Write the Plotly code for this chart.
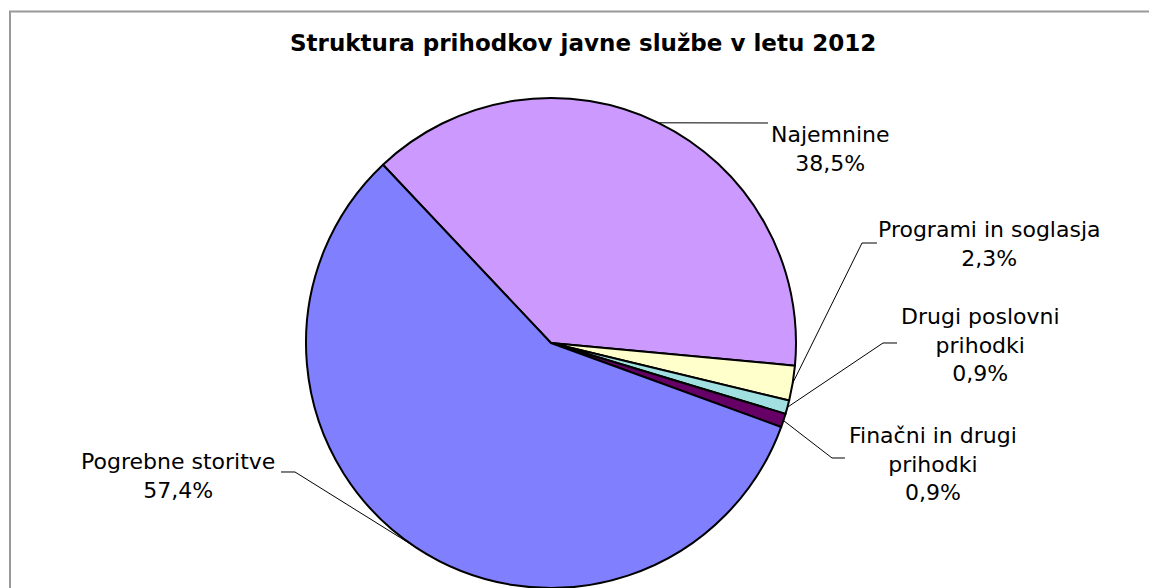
import math
import plotly.graph_objects as go

# ---- data ----
labels = ["Najemnine", "Programi in soglasja", "Drugi poslovni prihodki",
          "Finačni in drugi prihodki", "Pogrebne storitve"]
label_text = ["Najemnine<br>38,5%", "Programi in soglasja<br>2,3%",
              "Drugi poslovni<br>prihodki<br>0,9%", "Finačni in drugi<br>prihodki<br>0,9%",
              "Pogrebne storitve<br>57,4%"]
values = [38.5, 2.3, 0.9, 0.9, 57.4]
colors = ["#CC99FF", "#FFFFCC", "#A0E0E0", "#660066", "#8080FF"]
title = "Struktura prihodkov javne službe v letu 2012"

# ---- layout constants (pixels) ----
W, H = 1149, 588
CX, CY, R = 551, 343, 245
ROT = -43.3
# label text centres and leader elbow points (layout positions)
text_pos = [(830, 149), (989, 244), (980, 345), (933, 464), (178, 476)]
elbows = [[(768, 123)],
          [(862, 243), (877, 243)],
          [(883, 343), (897, 343)],
          [(832, 458), (845, 458)],
          [(295, 472), (281, 472)]]

def px(x):
    return x / W

def py(y):
    return (H - y) / H

fig = go.Figure(go.Pie(
    labels=labels, values=values, sort=False, direction="clockwise",
    rotation=ROT, marker=dict(colors=colors, line=dict(color="black", width=2)),
    textinfo="none", hoverinfo="skip", showlegend=False,
    domain=dict(x=[px(CX - R), px(CX + R)], y=[py(CY + R), py(CY - R)]),
))

shapes = [dict(type="rect", xref="paper", yref="paper",
               x0=px(10), y0=-0.2, x1=1.2, y1=py(11.5),
               line=dict(color="#999999", width=2), fillcolor="rgba(0,0,0,0)")]
annotations = [dict(text="<b>" + title + "</b>", xref="paper", yref="paper",
                    x=px(583), y=py(43), xanchor="center", yanchor="middle",
                    showarrow=False, font=dict(family="DejaVu Sans", size=23, color="black"))]

total = sum(values)
cum = 0.0
for i, v in enumerate(values):
    mid = math.radians(ROT + 360 * (cum + v / 2) / total)
    cum += v
    ex = CX + R * math.sin(mid)
    ey = CY - R * math.cos(mid)
    pts = [(ex, ey)] + elbows[i]
    path = "M " + " L ".join(f"{px(a):.5f},{py(b):.5f}" for a, b in pts)
    shapes.append(dict(type="path", xref="paper", yref="paper", path=path,
                       line=dict(color="black", width=1)))
    tx, ty = text_pos[i]
    annotations.append(dict(text=label_text[i], xref="paper", yref="paper",
                            x=px(tx), y=py(ty), xanchor="center", yanchor="middle",
                            align="center", showarrow=False,
                            font=dict(family="DejaVu Sans", size=22, color="black")))

fig.update_layout(width=W, height=H, margin=dict(l=0, r=0, t=0, b=0),
                  paper_bgcolor="white", plot_bgcolor="white",
                  shapes=shapes, annotations=annotations)
fig.write_html("out.html")
